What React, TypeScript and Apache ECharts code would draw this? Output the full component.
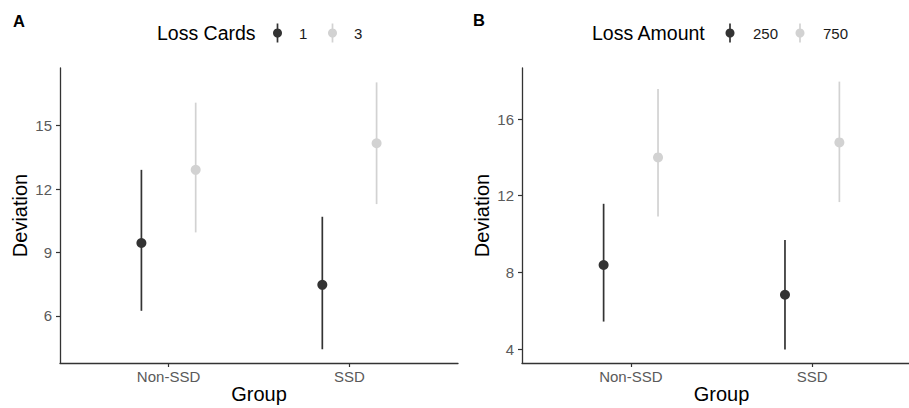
import React, { useEffect, useRef } from "react";
import * as echarts from "echarts";

// ---------- data ----------
const groups = ["Non-SSD", "SSD"];

// Panel A: Loss Cards
const cardsLevels = ["1", "3"];
const cards1Mean = [9.45, 7.47];
const cards1Lo = [6.24, 4.42];
const cards1Hi = [12.91, 10.69];
const cards3Mean = [12.91, 14.17];
const cards3Lo = [9.95, 11.29];
const cards3Hi = [16.09, 17.05];
const ticksA = [6, 9, 12, 15];

// Panel B: Loss Amount
const amountLevels = ["250", "750"];
const amt250Mean = [8.39, 6.84];
const amt250Lo = [5.44, 3.98];
const amt250Hi = [11.58, 9.69];
const amt750Mean = [14.0, 14.78];
const amt750Lo = [10.92, 11.67];
const amt750Hi = [17.57, 17.95];
const ticksB = [4, 8, 12, 16];

const DARK = "#333333";
const LIGHT = "#d2d2d2";
const DODGE = 0.15;
const FONT = "Liberation Sans, Arial, sans-serif";

function buildData(mean: number[], lo: number[], hi: number[], offset: number) {
  return mean.map((m, i) => [i + 1 + offset, m, lo[i], hi[i]]);
}

function pointRange(color: string) {
  return (params: any, api: any) => {
    const x = api.value(0);
    const p = api.coord([x, api.value(1)]);
    const a = api.coord([x, api.value(2)]);
    const b = api.coord([x, api.value(3)]);
    return {
      type: "group",
      children: [
        {
          type: "line",
          shape: { x1: a[0], y1: a[1], x2: b[0], y2: b[1] },
          style: { stroke: color, lineWidth: 1.7 },
        },
        {
          type: "circle",
          shape: { cx: p[0], cy: p[1], r: 5 },
          style: { fill: color },
        },
      ],
    };
  };
}

function xAxisCfg(gridIndex: number) {
  return {
    type: "value",
    gridIndex,
    min: 0.4,
    max: 2.6,
    name: "Group",
    nameLocation: "middle",
    nameGap: 21,
    nameMoveOverlap: false,
    nameTextStyle: { fontFamily: FONT, fontSize: 20, color: "#000" },
    axisLine: { show: true, lineStyle: { color: DARK, width: 1.3 } },
    axisTick: { show: true, length: 4, customValues: [1, 2], lineStyle: { color: DARK, width: 1.2 } },
    axisLabel: {
      customValues: [1, 2],
      formatter: (v: number) => groups[Math.round(v) - 1] ?? "",
      fontFamily: FONT,
      fontSize: 15,
      color: "#5a5a5a",
      margin: 6,
    },
    splitLine: { show: false },
  };
}

function yAxisCfg(gridIndex: number, min: number, max: number, ticks: number[]) {
  return {
    type: "value",
    gridIndex,
    min,
    max,
    name: "Deviation",
    nameLocation: "middle",
    nameGap: 30,
    nameMoveOverlap: false,
    nameTextStyle: { fontFamily: FONT, fontSize: 20, color: "#000" },
    axisLine: { show: true, lineStyle: { color: DARK, width: 1.3 } },
    axisTick: { show: true, length: 4, customValues: ticks, lineStyle: { color: DARK, width: 1.2 } },
    axisLabel: {
      customValues: ticks,
      fontFamily: FONT,
      fontSize: 15,
      color: "#5a5a5a",
      margin: 8,
    },
    splitLine: { show: false },
  };
}

function legendGraphics(
  title: string,
  titleX: number,
  levels: string[],
  glyphX: number[],
  labelX: number[]
) {
  const cy = 33;
  const items: any[] = [
    {
      type: "text",
      x: titleX,
      y: cy,
      style: {
        text: title,
        fontFamily: FONT,
        fontSize: 19.5,
        fill: "#000",
        verticalAlign: "middle",
        align: "left",
      },
    },
  ];
  const colors = [DARK, LIGHT];
  levels.forEach((lv, i) => {
    items.push({
      type: "line",
      shape: { x1: glyphX[i], y1: cy - 9.5, x2: glyphX[i], y2: cy + 9.5 },
      style: { stroke: colors[i], lineWidth: 1.7 },
    });
    items.push({
      type: "circle",
      shape: { cx: glyphX[i], cy, r: 4.5 },
      style: { fill: colors[i] },
    });
    items.push({
      type: "text",
      x: labelX[i],
      y: cy,
      style: {
        text: lv,
        fontFamily: FONT,
        fontSize: 15,
        fill: "#1a1a1a",
        verticalAlign: "middle",
        align: "left",
      },
    });
  });
  return items;
}

export default function App() {
  const ref = useRef<HTMLDivElement>(null);

  useEffect(() => {
    if (!ref.current) return;
    const chart = echarts.init(ref.current, undefined, { renderer: "svg" });
    const option: any = {
      animation: false,
      backgroundColor: "#ffffff",
      grid: [
        { left: 60, top: 68, width: 398, height: 295, outerBoundsMode: "none", containLabel: false },
        { left: 522, top: 68, width: 399, height: 295, outerBoundsMode: "none", containLabel: false },
      ],
      xAxis: [xAxisCfg(0), xAxisCfg(1)],
      yAxis: [yAxisCfg(0, 3.77, 17.73, ticksA), yAxisCfg(1, 3.28, 18.66, ticksB)],
      series: [
        {
          type: "custom",
          name: cardsLevels[0],
          xAxisIndex: 0,
          yAxisIndex: 0,
          renderItem: pointRange(DARK),
          data: buildData(cards1Mean, cards1Lo, cards1Hi, -DODGE),
        },
        {
          type: "custom",
          name: cardsLevels[1],
          xAxisIndex: 0,
          yAxisIndex: 0,
          renderItem: pointRange(LIGHT),
          data: buildData(cards3Mean, cards3Lo, cards3Hi, DODGE),
        },
        {
          type: "custom",
          name: amountLevels[0],
          xAxisIndex: 1,
          yAxisIndex: 1,
          renderItem: pointRange(DARK),
          data: buildData(amt250Mean, amt250Lo, amt250Hi, -DODGE),
        },
        {
          type: "custom",
          name: amountLevels[1],
          xAxisIndex: 1,
          yAxisIndex: 1,
          renderItem: pointRange(LIGHT),
          data: buildData(amt750Mean, amt750Lo, amt750Hi, DODGE),
        },
      ],
      graphic: [
        {
          type: "text",
          x: 13,
          y: 21,
          style: {
            text: "A",
            fontFamily: FONT,
            fontSize: 16.5,
            fontWeight: "bold",
            fill: "#000",
            verticalAlign: "middle",
          },
        },
        {
          type: "text",
          x: 473,
          y: 20,
          style: {
            text: "B",
            fontFamily: FONT,
            fontSize: 16.5,
            fontWeight: "bold",
            fill: "#000",
            verticalAlign: "middle",
          },
        },
        ...legendGraphics("Loss Cards", 157, cardsLevels, [277.5, 332.5], [299, 354]),
        ...legendGraphics("Loss Amount", 592, amountLevels, [730, 800], [753, 823]),
      ],
    };
    chart.setOption(option);
    return () => chart.dispose();
  }, []);

  return (
    <div
      style={{ position: "fixed", left: 0, top: 0, width: 909, height: 408, overflow: "hidden", background: "#fff" }}
    >
      <div ref={ref} style={{ width: 909, height: 408 }} />
    </div>
  );
}
